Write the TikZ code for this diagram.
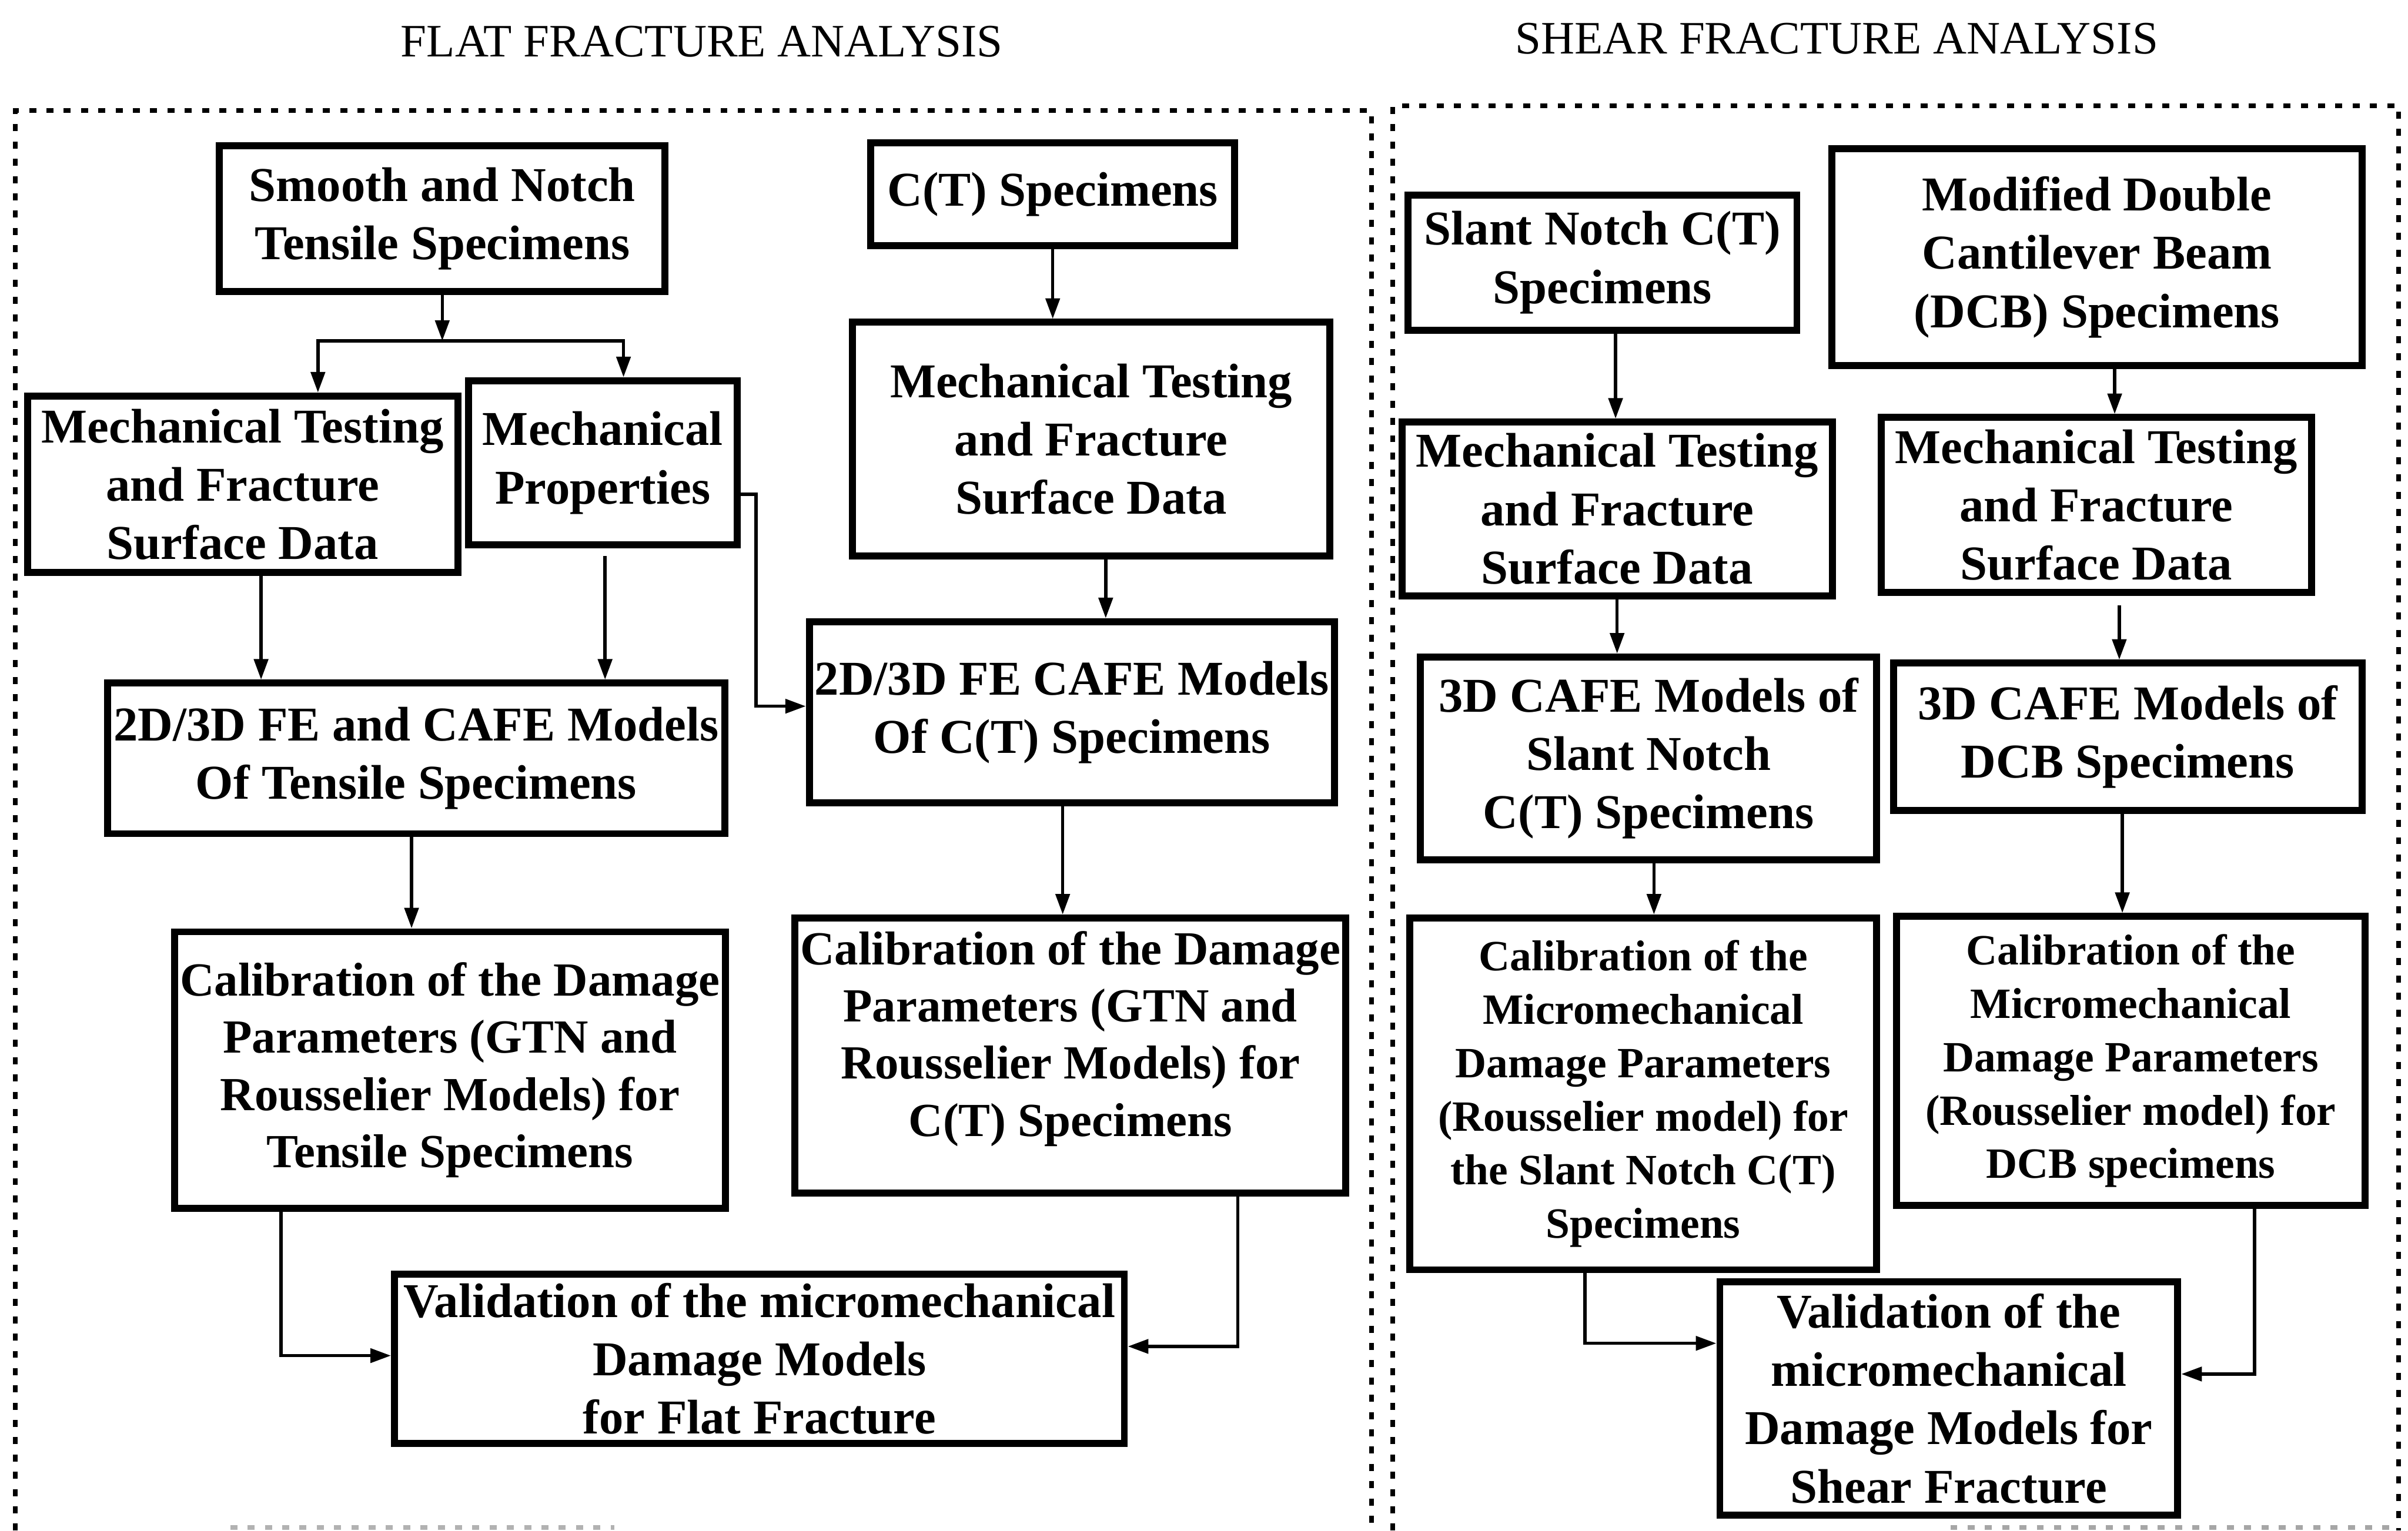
\documentclass[tikz,border=0pt]{standalone}
\usepackage{fontspec}
\setmainfont{Liberation Serif}
\usetikzlibrary{arrows.meta}
\begin{document}
\begin{tikzpicture}[x=0.01cm,y=-0.01cm,
  box/.style={draw,line width=1.3pt,align=center,inner sep=1pt,
    font=\bfseries\fontsize{9}{10.8}\selectfont},
  calbox/.style={box,font=\bfseries\fontsize{8.8}{10.6}\selectfont},
  smallbox/.style={box,font=\bfseries\fontsize{8}{9.9}\selectfont},
  arr/.style={line width=0.6pt,-{Triangle[length=3.8pt,width=2.6pt]}},
  frame/.style={line width=0.9pt,dash pattern=on 1.3pt off 1.9pt},
  heading/.style={font=\fontsize{8.6}{10}\selectfont}]
\useasboundingbox (0,0) rectangle (1568,997);

% section headings
\node[heading] (h1) at (457,27) {FLAT FRACTURE ANALYSIS};
\node[heading] (h2) at (1196,25) {SHEAR FRACTURE ANALYSIS};

% dashed frames of the two sections
\draw[frame] (10,997) -- (10,72) -- (893,72) -- (893,997);
\draw[frame] (907,997) -- (907,69) -- (1562,69) -- (1562,997);
\draw[frame,gray!60] (150,995) -- (400,995);
\draw[frame,gray!70] (1270,995) -- (1560,995);

% ---- flat fracture branch ----
\node[box,minimum width=2.90cm,minimum height=0.95cm] (b1) at (288,142.5)
  {Smooth and Notch\\Tensile Specimens};
\node[box,minimum width=2.80cm,minimum height=1.15cm] (b2) at (158,315.5)
  {Mechanical Testing\\and Fracture\\Surface Data};
\node[box,minimum width=1.75cm,minimum height=1.07cm] (b3) at (392.5,301.5)
  {Mechanical\\Properties};
\node[box,minimum width=4.02cm,minimum height=0.98cm] (b4) at (271,494)
  {2D/3D FE and CAFE Models\\Of Tensile Specimens};
\node[calbox,minimum width=3.58cm,minimum height=1.80cm] (b7) at (293,697)
  {Calibration of the Damage\\Parameters (GTN and\\Rousselier Models) for\\Tensile Specimens};
\node[box,minimum width=2.37cm,minimum height=0.67cm] (b5) at (685.5,126.5)
  {C(T) Specimens};
\node[box,minimum width=3.11cm,minimum height=1.52cm] (b5b) at (710.5,286)
  {Mechanical Testing\\and Fracture\\Surface Data};
\node[box,minimum width=3.36cm,minimum height=1.18cm] (b6) at (698,464)
  {2D/3D FE CAFE Models\\Of C(T) Specimens};
\node[calbox,minimum width=3.58cm,minimum height=1.79cm] (b8) at (697,687.5)
  {Calibration of the Damage\\Parameters (GTN and\\Rousselier Models) for\\C(T) Specimens\\[-2.5pt]\mbox{}};
\node[box,minimum width=4.75cm,minimum height=1.10cm] (b9) at (494.5,885)
  {Validation of the micromechanical\\Damage Models\\for Flat Fracture};

\coordinate (j1) at (288,222);
\draw[arr] (b1.south) -- (j1);
\draw[arr] (j1) -| ([xshift=0.49cm]b2.north);
\draw[arr] (j1) -| ([xshift=0.135cm]b3.north);
\draw[arr] ([xshift=0.12cm]b2.south) -- ([xshift=0.12cm]b2.south |- b4.north);
\draw[arr] ([xshift=0.015cm,yshift=-0.05cm]b3.south) -- ([xshift=0.015cm]b3.south |- b4.north);
\draw[arr] ([yshift=-0.205cm]b3.east) -- ++(10,0) |- ([yshift=0.04cm]b6.west);
\draw[arr] ([xshift=-0.03cm]b4.south) -- ([xshift=-0.03cm]b4.south |- b7.north);
\draw[arr] (b5.south) -- (b5.south |- b5b.north);
\draw[arr] ([xshift=0.095cm]b5b.south) -- ([xshift=0.095cm]b5b.south |- b6.north);
\draw[arr] ([xshift=-0.06cm]b6.south) -- ([xshift=-0.06cm]b6.south |- b8.north);
\draw[arr] ([xshift=-1.10cm]b7.south) |- ([yshift=0.02cm]b9.west);
\draw[arr] ([xshift=1.09cm]b8.south) |- ([yshift=0.08cm]b9.east);

% ---- shear fracture branch ----
\node[box,minimum width=2.53cm,minimum height=0.88cm] (r1) at (1043.5,171)
  {Slant Notch C(T)\\Specimens};
\node[box,minimum width=3.45cm,minimum height=1.41cm] (r2) at (1365.5,167.5)
  {Modified Double\\Cantilever Beam\\(DCB) Specimens};
\node[box,minimum width=2.80cm,minimum height=1.13cm] (r3) at (1053,331.5)
  {Mechanical Testing\\and Fracture\\Surface Data};
\node[box,minimum width=2.80cm,minimum height=1.14cm] (r4) at (1365,329)
  {Mechanical Testing\\and Fracture\\Surface Data};
\node[box,minimum width=2.97cm,minimum height=1.32cm] (r5) at (1073.5,494)
  {3D CAFE Models of\\Slant Notch\\C(T) Specimens};
\node[box,minimum width=3.05cm,minimum height=0.96cm] (r6) at (1385.5,480)
  {3D CAFE Models of\\DCB Specimens};
\node[smallbox,minimum width=3.04cm,minimum height=2.29cm] (r7) at (1070,712.5)
  {Calibration of the\\Micromechanical\\Damage Parameters\\(Rousselier model) for\\the Slant Notch C(T)\\Specimens};
\node[smallbox,minimum width=3.05cm,minimum height=1.88cm] (r8) at (1387.5,691)
  {Calibration of the\\Micromechanical\\Damage Parameters\\(Rousselier model) for\\DCB specimens};
\node[box,minimum width=2.98cm,minimum height=1.52cm] (r9) at (1269,911)
  {Validation of the\\micromechanical\\Damage Models for\\Shear Fracture};

\draw[arr] ([xshift=0.085cm]r1.south) -- ([xshift=0.085cm]r1.south |- r3.north);
\draw[arr] ([xshift=0.115cm]r2.south) -- ([xshift=0.115cm]r2.south |- r4.north);
\draw[arr] (r3.south) -- (r3.south |- r5.north);
\draw[arr] ([xshift=0.15cm,yshift=-0.06cm]r4.south) -- ([xshift=0.15cm]r4.south |- r6.north);
\draw[arr] ([xshift=0.035cm]r5.south) -- ([xshift=0.035cm]r5.south |- r7.north);
\draw[arr] ([xshift=-0.035cm]r6.south) -- ([xshift=-0.035cm]r6.south |- r8.north);
\draw[arr] ([xshift=-0.38cm]r7.south) |- ([yshift=0.36cm]r9.west);
\draw[arr] ([xshift=0.805cm]r8.south) |- ([yshift=0.16cm]r9.east);
\end{tikzpicture}
\end{document}
